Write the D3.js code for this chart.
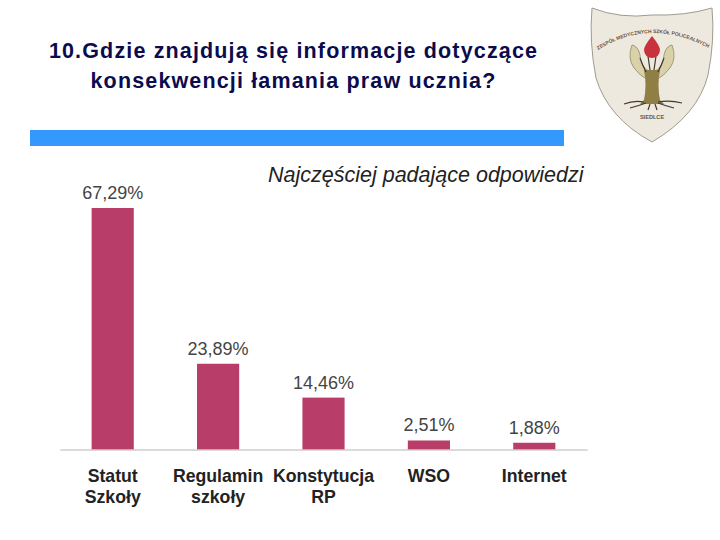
<!DOCTYPE html>
<html lang="pl">
<head>
  <meta charset="utf-8" />
  <title>Najczęściej padające odpowiedzi</title>
  <script src="https://cdnjs.cloudflare.com/ajax/libs/d3/7.8.5/d3.min.js"></script>
  <style type="text/css">
    html, body { margin: 0; padding: 0; background: #fff; }
    text { font-family: "Liberation Sans", Arial, sans-serif; }
  </style>
</head>
<body>
  <div id="graphic"></div>
  <script>
    var categories = [
      ["Statut", "Szkoły"],
      ["Regulamin", "szkoły"],
      ["Konstytucja", "RP"],
      ["WSO"],
      ["Internet"]
    ];
    var values = [67.29, 23.89, 14.46, 2.51, 1.88];
    var valueLabels = ["67,29%", "23,89%", "14,46%", "2,51%", "1,88%"];
    var titleLines = ["10.Gdzie znajdują się informacje dotyczące", "konsekwencji łamania praw ucznia?"];

    var svg = d3.select("#graphic").append("svg")
      .attr("width", 720)
      .attr("height", 540)
      .style("display", "block");

    // title
    svg.selectAll(".title")
      .data(titleLines)
      .enter().append("text")
      .attr("class", "title")
      .attr("x", 293.5)
      .attr("y", function(d, i) { return 58 + i * 30; })
      .attr("text-anchor", "middle")
      .attr("font-size", 21.5)
      .attr("font-weight", "bold")
      .attr("letter-spacing", 1.15)
      .attr("fill", "#0b0b4d")
      .text(function(d) { return d; });

    // blue band under the title
    svg.append("rect")
      .attr("x", 30).attr("y", 130)
      .attr("width", 534).attr("height", 16)
      .attr("fill", "#3399ff");

    svg.append("text")
      .attr("x", 268).attr("y", 182)
      .attr("font-size", 21.5)
      .attr("font-style", "italic")
      .attr("fill", "#222")
      .text("Najczęściej padające odpowiedzi");

    // chart
    var x = d3.scaleBand()
      .domain(d3.range(categories.length))
      .range([60, 587])
      .paddingInner(0.6)
      .paddingOuter(0.3);

    var y = d3.scaleLinear()
      .domain([0, 67.29])
      .range([449.5, 208]);

    svg.selectAll(".bar")
      .data(values)
      .enter().append("rect")
      .attr("class", "bar")
      .attr("x", function(d, i) { return x(i); })
      .attr("y", function(d) { return y(d); })
      .attr("width", x.bandwidth())
      .attr("height", function(d) { return y(0) - y(d); })
      .attr("fill", "#b83d68");

    svg.selectAll(".value")
      .data(values)
      .enter().append("text")
      .attr("class", "value")
      .attr("x", function(d, i) { return x(i) + x.bandwidth() / 2; })
      .attr("y", function(d) { return y(d) - 9; })
      .attr("text-anchor", "middle")
      .attr("font-size", 18)
      .attr("fill", "#444")
      .text(function(d, i) { return valueLabels[i]; });

    var axis = svg.append("g")
      .attr("transform", "translate(0,449.5)")
      .call(d3.axisBottom(x).tickSize(0).tickFormat(""));
    axis.select(".domain").attr("stroke", "#b5b5b5").attr("stroke-width", 1.2);

    var labels = axis.selectAll(".tick").select("text")
      .attr("y", 0).attr("dy", null)
      .attr("font-size", 17.7)
      .attr("font-weight", "bold")
      .attr("fill", "#222");

    labels.each(function(d) {
      d3.select(this).selectAll("tspan")
        .data(categories[d])
        .enter().append("tspan")
        .attr("x", 0)
        .attr("y", function(l, i) { return 32 + i * 21; })
        .text(function(l) { return l; });
    });

    // school crest, top right
    var crest = svg.append("g").attr("transform", "translate(580,0)");

    crest.append("path")
      .attr("d", "M12,8 Q40,19 72,15 Q105,16 132,8 Q135,40 128,75 Q118,115 72,142 Q28,118 16,78 Q9,42 12,8 Z")
      .attr("fill", "#eee9de")
      .attr("stroke", "#a09a90")
      .attr("stroke-width", 1);

    crest.append("path")
      .attr("id", "motto")
      .attr("d", "M18,50 Q72,16 132,50")
      .attr("fill", "none");

    crest.append("text")
      .attr("font-size", 5)
      .attr("font-family", "Liberation Serif, serif")
      .attr("font-weight", "bold")
      .attr("fill", "#6b5140")
      .append("textPath")
      .attr("href", "#motto")
      .text("ZESPÓŁ MEDYCZNYCH SZKÓŁ POLICEALNYCH");

    crest.append("text")
      .attr("x", 72).attr("y", 119)
      .attr("text-anchor", "middle")
      .attr("font-size", 5.6)
      .attr("font-family", "Liberation Serif, serif")
      .attr("font-weight", "bold")
      .attr("fill", "#6b5140")
      .text("SIEDLCE");

    // hands
    crest.append("path")
      .attr("d", "M52,45 Q47,58 54,68 Q60,76 68,80 L70,72 Q60,66 60,55 Q58,46 52,45 Z")
      .attr("fill", "#d9d2a8").attr("stroke", "#8d8a68").attr("stroke-width", 0.8);
    crest.append("path")
      .attr("d", "M92,45 Q97,58 90,68 Q84,76 76,80 L74,72 Q84,66 84,55 Q86,46 92,45 Z")
      .attr("fill", "#d9d2a8").attr("stroke", "#8d8a68").attr("stroke-width", 0.8);

    // trunk
    crest.append("path")
      .attr("d", "M64,70 Q67,85 64,100 L60,104 L84,104 L80,100 Q77,85 80,70 Z")
      .attr("fill", "#8f7f45");

    // roots and branches
    crest.selectAll(".twig")
      .data([
        "M64,102 Q54,100 44,104", "M66,103 Q58,106 50,108", "M78,102 Q90,100 102,103",
        "M78,103 Q86,106 94,108", "M70,104 L68,110", "M75,104 L77,110",
        "M66,72 Q62,64 60,58", "M70,70 L68,56", "M74,70 L76,56", "M78,72 Q82,64 84,58"
      ])
      .enter().append("path")
      .attr("class", "twig")
      .attr("d", function(d) { return d; })
      .attr("fill", "none")
      .attr("stroke", "#3f3a2c")
      .attr("stroke-width", 1.2);

    // blood drop
    crest.append("path")
      .attr("d", "M72,36 Q64,46 64,50 A8,8 0 0 0 80,50 Q80,46 72,36 Z")
      .attr("fill", "#c8323c");
  </script>
</body>
</html>
